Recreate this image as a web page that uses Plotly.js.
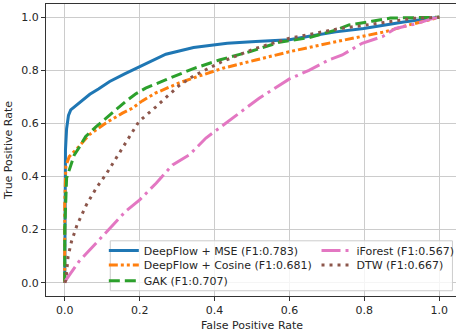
<!DOCTYPE html>
<html>
<head>
<meta charset="utf-8">
<script src="https://cdn.plot.ly/plotly-3.0.1.min.js"></script>
<style>
html,body{margin:0;padding:0;overflow:hidden;background:#fff;}
#chart{width:460px;height:335px;}
</style>
</head>
<body>
<div id="chart"></div>
<script>
// ROC data
const seriesNames = [
  "DeepFlow + MSE (F1:0.783)",
  "DeepFlow + Cosine (F1:0.681)",
  "GAK (F1:0.707)",
  "iForest (F1:0.567)",
  "DTW (F1:0.667)"
];

const mseFpr = [0, 0, 0.002, 0.005, 0.01, 0.016, 0.03, 0.049, 0.067, 0.09, 0.12, 0.16, 0.2, 0.27, 0.344, 0.434, 0.51, 0.6, 0.66, 0.724, 0.798, 0.905, 1.0];
const mseTpr = [0, 0.3, 0.5, 0.58, 0.63, 0.651, 0.667, 0.689, 0.71, 0.73, 0.758, 0.787, 0.814, 0.861, 0.886, 0.902, 0.909, 0.915, 0.93, 0.945, 0.958, 0.982, 1.0];

const cosFpr = [0, 0, 0.003, 0.012, 0.038, 0.065, 0.109, 0.154, 0.18, 0.207, 0.242, 0.304, 0.349, 0.422, 0.51, 0.599, 0.724, 0.768, 0.857, 0.919, 1.0];
const cosTpr = [0, 0.3, 0.44, 0.475, 0.513, 0.557, 0.601, 0.639, 0.657, 0.685, 0.714, 0.752, 0.774, 0.808, 0.839, 0.870, 0.908, 0.921, 0.946, 0.971, 1.0];

const gakFpr = [0, 0, 0.005, 0.016, 0.025, 0.04, 0.056, 0.084, 0.12, 0.162, 0.189, 0.216, 0.269, 0.34, 0.413, 0.493, 0.573, 0.652, 0.724, 0.759, 0.82, 0.87, 1.0];
const gakTpr = [0, 0.2, 0.394, 0.44, 0.48, 0.513, 0.551, 0.588, 0.632, 0.682, 0.711, 0.733, 0.764, 0.805, 0.839, 0.870, 0.906, 0.923, 0.952, 0.971, 0.985, 0.997, 1.0];

const ifoFpr = [0, 0.003, 0.038, 0.083, 0.127, 0.162, 0.2, 0.244, 0.288, 0.333, 0.377, 0.413, 0.466, 0.519, 0.555, 0.599, 0.652, 0.706, 0.741, 0.794, 0.848, 0.883, 0.937, 0.981, 1.0];
const ifoTpr = [0, 0.01, 0.08, 0.149, 0.218, 0.268, 0.312, 0.375, 0.444, 0.482, 0.545, 0.582, 0.639, 0.695, 0.726, 0.767, 0.80, 0.840, 0.858, 0.902, 0.927, 0.958, 0.975, 0.995, 1.0];

const dtwFpr = [0, 0.003, 0.007, 0.009, 0.018, 0.033, 0.058, 0.084, 0.111, 0.162, 0.198, 0.242, 0.304, 0.344, 0.42, 0.51, 0.6, 0.724, 0.834, 0.931, 1.0];
const dtwTpr = [0, 0.01, 0.068, 0.099, 0.155, 0.218, 0.294, 0.356, 0.41, 0.526, 0.607, 0.661, 0.741, 0.779, 0.833, 0.883, 0.921, 0.955, 0.977, 0.996, 1.0];

const tickVals = [0, 0.2, 0.4, 0.6, 0.8, 1.0];
const tickText = ["0.0", "0.2", "0.4", "0.6", "0.8", "1.0"];

const FONT = "DejaVu Sans, sans-serif";
const TXT = "#262626";
const FS = 11;

const traces = [
  {x: mseFpr, y: mseTpr, name: seriesNames[0], legend: "legend",
   line: {color: "#1f77b4", width: 3, dash: "solid"}},
  {x: cosFpr, y: cosTpr, name: seriesNames[1], legend: "legend2",
   line: {color: "#ff7f0e", width: 3, dash: "9px,3px,3px,3px,3px,3px"}},
  {x: gakFpr, y: gakTpr, name: seriesNames[2], legend: "legend3",
   line: {color: "#2ca02c", width: 3, dash: "11px,5px"}},
  {x: ifoFpr, y: ifoTpr, name: seriesNames[3], legend: "legend4",
   line: {color: "#e377c2", width: 3, dash: "19px,5px,3px,5px"}},
  {x: dtwFpr, y: dtwTpr, name: seriesNames[4], legend: "legend5",
   line: {color: "#8c564b", width: 3, dash: "3px,5px"}}
].map(t => Object.assign({type: "scatter", mode: "lines", hoverinfo: "skip"}, t));

function legendAt(x, y) {
  return {x: x, y: y, xanchor: "left", yanchor: "middle", bgcolor: "rgba(0,0,0,0)",
          borderwidth: 0, font: {family: FONT, size: FS, color: TXT},
          itemwidth: 30, tracegroupgap: 0};
}

const axisBase = {
  range: [-0.05, 1.05], tickvals: tickVals, ticktext: tickText,
  showgrid: true, gridcolor: "#cccccc", gridwidth: 1, zeroline: false,
  showline: true, linecolor: "#333333", linewidth: 1, mirror: true,
  ticks: "outside", ticklen: 4, tickwidth: 1, tickcolor: "#333333",
  tickfont: {family: FONT, size: FS, color: TXT}
};

const layout = {
  width: 460, height: 335,
  margin: {l: 46, r: 1, t: 4, b: 39, pad: 0},
  paper_bgcolor: "#ffffff", plot_bgcolor: "#ffffff",
  font: {family: FONT, size: FS, color: TXT},
  xaxis: Object.assign({}, axisBase, {title: {text: "False Positive Rate", standoff: 5, font: {family: FONT, size: FS, color: TXT}}}),
  yaxis: Object.assign({}, axisBase, {title: {text: "True Positive Rate", standoff: 6, font: {family: FONT, size: FS, color: TXT}}}),
  showlegend: true,
  legend: legendAt(0.140, 0.156),
  legend2: legendAt(0.140, 0.106),
  legend3: legendAt(0.140, 0.052),
  legend4: legendAt(0.655, 0.156),
  legend5: legendAt(0.655, 0.106),
  shapes: [{type: "rect", xref: "paper", yref: "paper", x0: 0.156, x1: 0.9865, y0: 0.018, y1: 0.189,
            fillcolor: "rgba(255,255,255,0.8)", line: {color: "#cccccc", width: 1}, layer: "above"}]
};

Plotly.newPlot("chart", traces, layout, {displayModeBar: false, responsive: false});
</script>
</body>
</html>
